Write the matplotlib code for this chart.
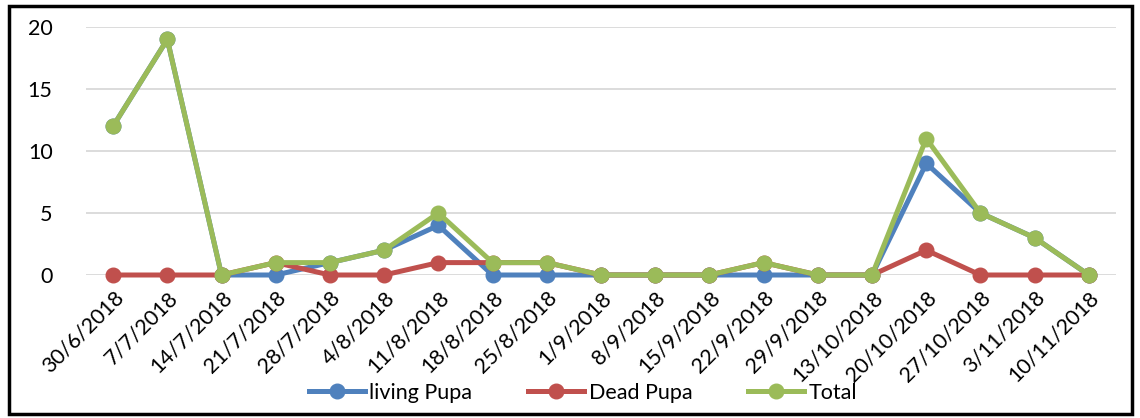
import matplotlib
matplotlib.use("Agg")
import matplotlib.pyplot as plt
from matplotlib.patches import Rectangle
from matplotlib.lines import Line2D

dates = ["30/6/2018", "7/7/2018", "14/7/2018", "21/7/2018", "28/7/2018",
         "4/8/2018", "11/8/2018", "18/8/2018", "25/8/2018", "1/9/2018",
         "8/9/2018", "15/9/2018", "22/9/2018", "29/9/2018", "13/10/2018",
         "20/10/2018", "27/10/2018", "3/11/2018", "10/11/2018"]
living = [12, 19, 0, 0, 1, 2, 4, 0, 0, 0, 0, 0, 0, 0, 0, 9, 5, 3, 0]
dead = [0, 0, 0, 1, 0, 0, 1, 1, 1, 0, 0, 0, 1, 0, 0, 2, 0, 0, 0]
total = [12, 19, 0, 1, 1, 2, 5, 1, 1, 0, 0, 0, 1, 0, 0, 11, 5, 3, 0]
yticks = [0, 5, 10, 15, 20]

plt.rcParams['font.family'] = ['Lato', 'DejaVu Sans']

fig = plt.figure(figsize=(11.4, 4.18), dpi=100)
ax = fig.add_axes([86 / 1140, 1 - 275 / 418, (1116 - 86) / 1140, (275 - 27) / 418])

x = list(range(len(dates)))
series = [("living Pupa", living, "#4f81bd"),
          ("Dead Pupa", dead, "#c0504d"),
          ("Total", total, "#9bbb59")]
for name, vals, col in series:
    ax.plot(x, vals, color=col, lw=3.6, marker="o", ms=10.5, label=name,
            solid_joinstyle="round", clip_on=False)

ax.set_xlim(-0.5, len(dates) - 0.5)
ax.set_ylim(0, 20)
ax.set_yticks(yticks)
ax.set_xticks(x)
ax.set_xticklabels(dates, rotation=45, ha="right", rotation_mode="anchor")
ax.tick_params(axis="x", length=0, labelsize=15.5, pad=9)
ax.tick_params(axis="y", length=0, labelsize=15.5, pad=24)
ax.grid(axis="y", color="#d9d9d9", lw=1.3)
ax.set_axisbelow(True)
for s in ax.spines.values():
    s.set_visible(False)

handles = [Line2D([], [], color=c, lw=3.6, marker="o", ms=10.5) for _, _, c in series]
fig.legend(handles, [n for n, _, _ in series], loc="center",
           bbox_to_anchor=(583 / 1140, 1 - 393 / 418), ncol=3, frameon=False,
           fontsize=15.5, handlelength=2.6, columnspacing=2.6, handletextpad=0.2)

fig.patches.append(Rectangle((9 / 1140, 4 / 418), (1132 - 9) / 1140, (412 - 4) / 418,
                             transform=fig.transFigure, fill=False, ec="black", lw=2.5))

fig.savefig("out.png", dpi=100)
